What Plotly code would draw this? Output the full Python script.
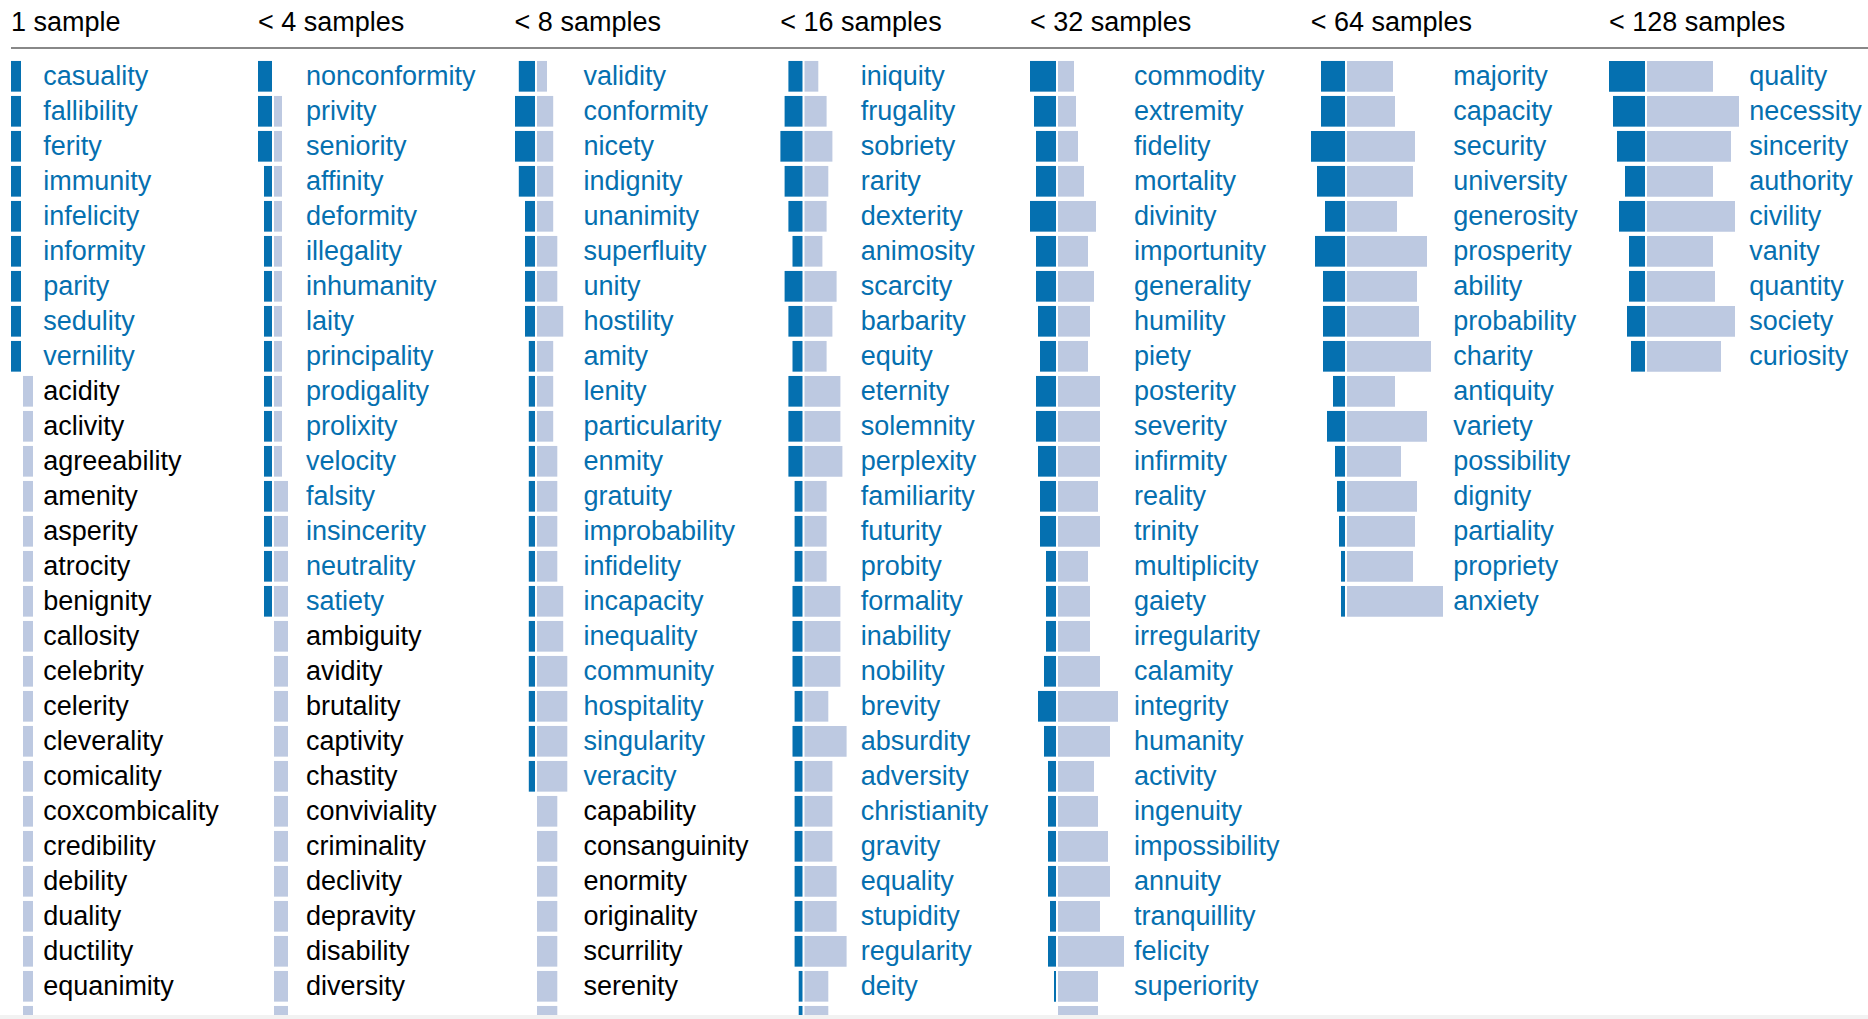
import plotly.graph_objects as go

# ---------------------------------------------------------------------------
# Data: one column per sample-size bucket.  For every word, "pos" is the
# dark (left) bar and "neg" the light (right) bar, in axis units.
# ---------------------------------------------------------------------------
HEADERS = ["1 sample", "< 4 samples", "< 8 samples", "< 16 samples",
           "< 32 samples", "< 64 samples", "< 128 samples"]

words_1 = ["casuality", "fallibility", "ferity", "immunity", "infelicity",
           "informity", "parity", "sedulity", "vernility", "acidity",
           "aclivity", "agreeability", "amenity", "asperity", "atrocity",
           "benignity", "callosity", "celebrity", "celerity", "cleverality",
           "comicality", "coxcombicality", "credibility", "debility",
           "duality", "ductility", "equanimity", "fertility"]
pos_1 = [10] * 9 + [0] * 19
neg_1 = [0] * 9 + [10] * 19

words_2 = ["nonconformity", "privity", "seniority", "affinity", "deformity",
           "illegality", "inhumanity", "laity", "principality", "prodigality",
           "prolixity", "velocity", "falsity", "insincerity", "neutrality",
           "satiety", "ambiguity", "avidity", "brutality", "captivity",
           "chastity", "conviviality", "criminality", "declivity",
           "depravity", "disability", "diversity", "fatality"]
pos_2 = [14, 14, 14, 8, 8, 8, 8, 8, 8, 8, 8, 8, 8, 8, 8, 8,
         0, 0, 0, 0, 0, 0, 0, 0, 0, 0, 0, 0]
neg_2 = [0, 8, 8, 8, 8, 8, 8, 8, 8, 8, 8, 8, 14, 14, 14, 14,
         14, 14, 14, 14, 14, 14, 14, 14, 14, 14, 14, 14]

words_3 = ["validity", "conformity", "nicety", "indignity", "unanimity",
           "superfluity", "unity", "hostility", "amity", "lenity",
           "particularity", "enmity", "gratuity", "improbability",
           "infidelity", "incapacity", "inequality", "community",
           "hospitality", "singularity", "veracity", "capability",
           "consanguinity", "enormity", "originality", "scurrility",
           "serenity", "servility"]
pos_3 = [16.2, 20, 20, 16.2, 10, 10, 10, 10, 6.2, 6.2, 6.2, 6.2, 6.2, 6.2,
         6.2, 6.2, 6.2, 6.2, 6.2, 6.2, 6.2, 0, 0, 0, 0, 0, 0, 0]
neg_3 = [10, 16.2, 16.2, 16.2, 16.2, 20.3, 20.3, 26.2, 16.2, 16.2, 16.2,
         20.3, 20.3, 20.3, 20.3, 26.2, 26.2, 30.3, 30.3, 30.3, 30.3,
         20.3, 20.3, 20.3, 20.3, 20.3, 20.3, 20.3]

words_4 = ["iniquity", "frugality", "sobriety", "rarity", "dexterity",
           "animosity", "scarcity", "barbarity", "equity", "eternity",
           "solemnity", "perplexity", "familiarity", "futurity", "probity",
           "formality", "inability", "nobility", "brevity", "absurdity",
           "adversity", "christianity", "gravity", "equality", "stupidity",
           "regularity", "deity", "uniformity"]
pos_4 = [14.1, 17.9, 22.1, 17.9, 14.1, 10, 17.9, 14.1, 10, 14.1, 14.1,
         14.1, 7.9, 7.9, 7.9, 10, 10, 10, 7.9, 10, 7.9, 7.9, 7.9, 7.9,
         7.9, 7.9, 3.8, 3.8]
neg_4 = [13.8, 22.1, 27.9, 23.8, 22.1, 17.9, 32.1, 27.9, 22.1, 35.9, 35.9,
         37.9, 22.1, 22.1, 22.1, 35.9, 35.9, 35.9, 23.8, 42.1, 27.9, 27.9,
         27.9, 32.1, 32.1, 42.1, 23.8, 23.8]

words_5 = ["commodity", "extremity", "fidelity", "mortality", "divinity",
           "importunity", "generality", "humility", "piety", "posterity",
           "severity", "infirmity", "reality", "trinity", "multiplicity",
           "gaiety", "irregularity", "calamity", "integrity", "humanity",
           "activity", "ingenuity", "impossibility", "annuity",
           "tranquillity", "felicity", "superiority", "vicinity"]
pos_5 = [26, 22, 20, 20, 26, 20, 20, 18, 16, 20, 20, 18, 16, 16, 10, 10,
         10, 12, 18, 12, 8, 8, 8, 8, 6, 8, 2, 0]
neg_5 = [16, 18, 20, 26, 38, 30, 36, 32, 30, 42, 42, 42, 40, 42, 30, 32,
         32, 42, 60, 52, 36, 40, 50, 52, 42, 66, 40, 40]

words_6 = ["majority", "capacity", "security", "university", "generosity",
           "prosperity", "ability", "probability", "charity", "antiquity",
           "variety", "possibility", "dignity", "partiality", "propriety",
           "anxiety"]
pos_6 = [24, 24, 34, 28, 20, 30, 22, 22, 22, 12, 18, 10, 8, 6, 4, 4]
neg_6 = [46, 48, 68, 66, 50, 80, 70, 72, 84, 48, 80, 54, 70, 68, 66, 96]

words_7 = ["quality", "necessity", "sincerity", "authority", "civility",
           "vanity", "quantity", "society", "curiosity"]
pos_7 = [36, 32, 28, 20, 26, 16, 16, 18, 14]
neg_7 = [66, 92, 84, 66, 88, 66, 68, 88, 74]

COLUMNS = [
    (words_1, pos_1, neg_1),
    (words_2, pos_2, neg_2),
    (words_3, pos_3, neg_3),
    (words_4, pos_4, neg_4),
    (words_5, pos_5, neg_5),
    (words_6, pos_6, neg_6),
    (words_7, pos_7, neg_7),
]

# ---------------------------------------------------------------------------
# Layout (x axis in screen pixels, y axis in row units)
# ---------------------------------------------------------------------------
W, H = 1868, 1019
PLOT_H = 1015                     # a thin grey strip sits below the list
ROW0 = 76.3                       # pixel centre of the first row
ROW_H = 35.0                      # row pitch in pixels
BAR_W = 0.877                     # bar thickness as a fraction of a row
GAP = 1.0                         # half gap between the two bars
TEXT_DY = 2.4                     # nudge labels down onto the bar centre (px)

col_left = [11, 258, 514.6, 780.3, 1030, 1310.7, 1609]
col_split = [22, 273, 536, 803.5, 1057, 1346, 1646]
col_text = [43.3, 306, 583.4, 860.7, 1134, 1453.3, 1749.3]

DARK = "#0570b0"
LIGHT = "#bdc9e1"
BLUE_TEXT = "#0570b0"
BLACK_TEXT = "#000000"
FONT = "Liberation Sans, Arial, Helvetica, sans-serif"
FONT_SIZE = 27


def px_to_row(py):
    return (py - ROW0) / ROW_H


fig = go.Figure()

for (words, pos, neg), split, tx in zip(COLUMNS, col_split, col_text):
    rows = list(range(len(words)))
    fig.add_trace(go.Bar(
        orientation="h", y=rows, x=[-v for v in pos], base=split - GAP,
        width=BAR_W, marker=dict(color=DARK, line=dict(width=0)),
        hoverinfo="skip", showlegend=False))
    fig.add_trace(go.Bar(
        orientation="h", y=rows, x=neg, base=split + GAP,
        width=BAR_W, marker=dict(color=LIGHT, line=dict(width=0)),
        hoverinfo="skip", showlegend=False))
    fig.add_trace(go.Scatter(
        x=[tx] * len(words), y=[r + TEXT_DY / ROW_H for r in rows],
        mode="text", text=words, textposition="middle right",
        textfont=dict(family=FONT, size=FONT_SIZE,
                      color=[BLUE_TEXT if p > 0 else BLACK_TEXT for p in pos]),
        hoverinfo="skip", showlegend=False))

# column headers
header_y = px_to_row(22.5 + TEXT_DY - 0.8)
fig.add_trace(go.Scatter(
    x=col_left, y=[header_y] * len(HEADERS), mode="text", text=HEADERS,
    textposition="middle right",
    textfont=dict(family=FONT, size=FONT_SIZE, color="#000000"),
    hoverinfo="skip", showlegend=False, cliponaxis=False))

# rule under the headers
rule_y = px_to_row(48)
fig.add_shape(type="line", xref="x", yref="y", x0=col_left[0], x1=W,
              y0=rule_y, y1=rule_y, line=dict(color="#888888", width=2))

fig.update_layout(
    width=W, height=H, autosize=False,
    margin=dict(l=0, r=0, t=0, b=H - PLOT_H, pad=0),
    paper_bgcolor="#f2f2f2", plot_bgcolor="#ffffff",
    barmode="overlay", hovermode=False, showlegend=False,
    xaxis=dict(range=[0, W], visible=False, fixedrange=True),
    yaxis=dict(range=[px_to_row(PLOT_H), px_to_row(0)], visible=False,
               fixedrange=True),
)

fig.write_html("out.html")
